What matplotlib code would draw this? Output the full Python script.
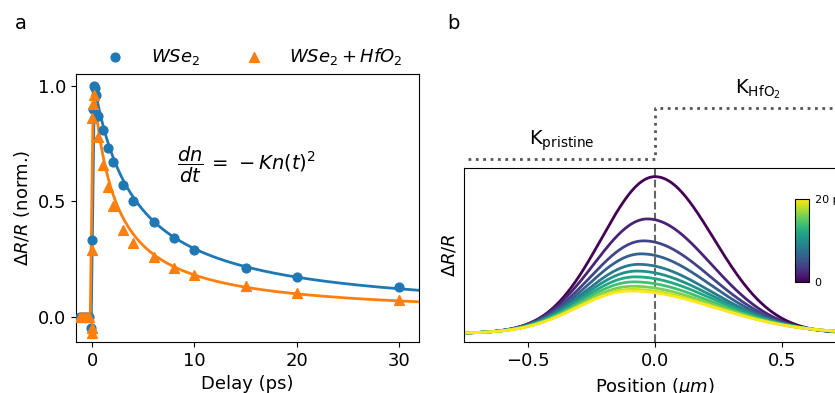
import numpy as np
import matplotlib
matplotlib.use("Agg")
import matplotlib.pyplot as plt

# ---- panel a: normalised transient reflectivity ----
t_wse2 = [-1.2, -0.9, -0.6, -0.3, -0.1, 0.0, 0.05, 0.15, 0.3, 0.4, 0.6, 1, 1.5, 2, 3, 4, 6, 8, 10, 15, 20, 30]
y_wse2 = [0, 0, 0, 0, -0.05, 0.33, 0.90, 1.0, 0.99, 0.96, 0.87, 0.81, 0.73, 0.67, 0.57, 0.50, 0.41, 0.34, 0.29, 0.21, 0.17, 0.13]
t_hfo2 = [-1.2, -0.9, -0.6, -0.3, -0.05, 0.0, 0.0, 0.0, 0.1, 0.2, 0.6, 1, 1.5, 2, 3, 4, 6, 8, 10, 15, 20, 30]
y_hfo2 = [0, 0, 0, 0, -0.05, -0.07, 0.29, 0.86, 0.92, 0.96, 0.78, 0.655, 0.56, 0.48, 0.375, 0.32, 0.256, 0.21, 0.18, 0.134, 0.104, 0.072]

# second-order decay fit, n(t) = 1 / (1 + K t), with onset / peak times
fit_wse2 = {"t_on": -0.1, "t_peak": 0.2, "K": 0.245}
fit_hfo2 = {"t_on": -0.2, "t_peak": 0.1, "K": 0.46}

# ---- panel b: simulated spatial profiles, 0..20 ps ----
prof_delay = [0, 2, 4, 6, 8, 10, 12, 14, 16, 18, 20]
prof_amp = [1.0, 0.73, 0.59, 0.507, 0.44, 0.397, 0.36, 0.328, 0.30, 0.28, 0.27]
prof_center = [0.0, -0.03, -0.045, -0.055, -0.065, -0.072, -0.078, -0.084, -0.089, -0.093, -0.097]
prof_sig_left = [0.21, 0.21, 0.21, 0.21, 0.21, 0.21, 0.21, 0.21, 0.21, 0.21, 0.21]
prof_sig_right = [0.23, 0.25, 0.265, 0.275, 0.285, 0.295, 0.305, 0.31, 0.32, 0.325, 0.33]

blue = "#1f77b4"
orange = "#ff7f0e"


def fit_curve(t, p):
    y = np.where(t >= p["t_peak"], 1.0 / (1.0 + p["K"] * (t - p["t_peak"])), 0.0)
    rise = (t > p["t_on"]) & (t < p["t_peak"])
    y[rise] = (t[rise] - p["t_on"]) / (p["t_peak"] - p["t_on"])
    return y


fig = plt.figure(figsize=(8.35, 3.93), dpi=100)

# Panel a
ax1 = fig.add_axes([0.091, 0.13, 0.411, 0.682])
tt = np.linspace(-1.3, 32, 2000)
ax1.plot(tt, fit_curve(tt, fit_wse2), color=blue, lw=2)
ax1.plot(tt, fit_curve(tt, fit_hfo2), color=orange, lw=2)
ax1.scatter(t_wse2, y_wse2, color=blue, s=40, marker="o", zorder=3, label="$WSe_2$")
ax1.scatter(t_hfo2, y_hfo2, color=orange, s=50, marker="^", zorder=3, label="$WSe_2 + HfO_2$")
ax1.set_xlim(-1.6, 32)
ax1.set_ylim(-0.11, 1.052)
ax1.set_xticks([0, 10, 20, 30])
ax1.set_yticks([0.0, 0.5, 1.0])
ax1.tick_params(labelsize=13)
ax1.set_xlabel("Delay (ps)", fontsize=13)
ax1.set_ylabel(r"$\Delta R/R$ (norm.)", fontsize=13)
ax1.text(0.295, 0.66, r"$\dfrac{dn}{dt}\, =\, -Kn(t)^2$", transform=ax1.transAxes,
         fontsize=14, va="center", ha="left")
ax1.legend(loc="lower center", bbox_to_anchor=(0.507, 1.0), ncol=2, frameon=False,
           fontsize=13, handletextpad=0.95, columnspacing=2.0, borderaxespad=0.0)
fig.text(0.018, 0.925, "a", fontsize=14)

# Panel b
ax2 = fig.add_axes([0.556, 0.129, 0.457, 0.443])
xx = np.linspace(-0.75, 0.75, 600)
cmap = plt.get_cmap("viridis")
for d, a, c, sl, sr in zip(prof_delay, prof_amp, prof_center, prof_sig_left, prof_sig_right):
    sig = np.where(xx < c, sl, sr)
    ax2.plot(xx, a * np.exp(-(xx - c) ** 2 / (2 * sig ** 2)), color=cmap(d / 20), lw=2)
ax2.axvline(0, color="#666666", ls="--", lw=1.5, zorder=0)
ax2.plot([-0.734, 0, 0, 0.75], [1.112, 1.112, 1.439, 1.439], color="#555555",
         ls=":", lw=2, clip_on=False)
ax2.text(-0.366, 1.228, r"K$_\mathrm{pristine}$", fontsize=14, ha="center", va="center")
ax2.text(0.404, 1.557, r"K$_\mathrm{HfO_2}$", fontsize=14, ha="center", va="center")
ax2.set_xlim(-0.75, 0.75)
ax2.set_ylim(-0.058, 1.054)
ax2.set_yticks([])
ax2.set_xticks([-0.5, 0.0, 0.5])
ax2.tick_params(labelsize=13)
ax2.set_xlabel(r"Position ($\mu m$)", fontsize=13)
ax2.set_ylabel(r"$\Delta R/R$", fontsize=13)
fig.text(0.536, 0.925, "b", fontsize=14)

cax = ax2.inset_axes([0.866, 0.348, 0.0375, 0.475])
sm = matplotlib.cm.ScalarMappable(cmap=cmap, norm=plt.Normalize(0, 20))
cb = fig.colorbar(sm, cax=cax, ticks=[0, 20])
cb.ax.set_yticklabels(["0", "20 ps"])
cb.ax.tick_params(labelsize=8, length=0, pad=4)

fig.savefig("out.png", dpi=100)
